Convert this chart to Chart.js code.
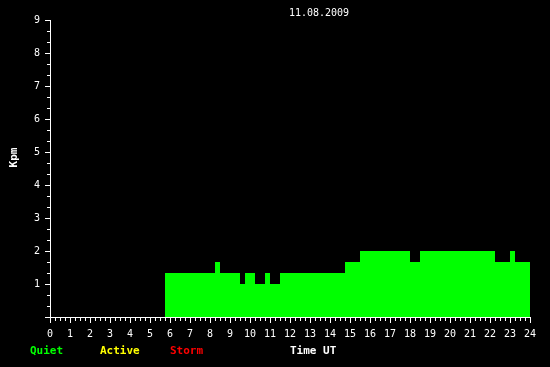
<!DOCTYPE html>
<html>
<head>
<meta charset="utf-8">
<script src="https://cdn.jsdelivr.net/npm/chart.js@4.4.0/dist/chart.umd.min.js"></script>
<style>
  html, body { margin: 0; padding: 0; background: #000; }
  #c { display: block; background: #000; }
</style>
</head>
<body>
<canvas id="c" width="550" height="367"></canvas>
<script>
// ---- data ----
const chartTitle = "11.08.2009";
// start hour (UT) of each constant Kpm segment
const segStartHours = [5.75, 8.25, 8.5, 9.5, 9.75, 10.25, 10.75, 11.0, 11.5, 14.75, 15.5, 18.0, 18.5, 22.25, 23.0, 23.25];
// Kpm value for each segment
const kpmValues = [1.333, 1.667, 1.333, 1.0, 1.333, 1.0, 1.333, 1.0, 1.333, 1.667, 2.0, 1.667, 2.0, 1.667, 2.0, 1.667];
const endHour = 24;
const xTickLabels = ["0","1","2","3","4","5","6","7","8","9","10","11","12","13","14","15","16","17","18","19","20","21","22","23","24"];
const yTickLabels = ["","1","2","3","4","5","6","7","8","9"];
const legendLabels = ["Quiet", "Active", "Storm"];
const legendColors = ["#00ff00", "#ffff00", "#ff0000"];
const xAxisTitle = "Time UT";
const yAxisTitle = "Kpm";

// build step points
const points = segStartHours.map((h, i) => ({ x: h, y: kpmValues[i] }));
points.push({ x: endHour, y: kpmValues[kpmValues.length - 1] });

const MONO = "'DejaVu Sans Mono', 'Liberation Mono', monospace";

const decorPlugin = {
  id: 'decor',
  afterDraw(chart) {
    const ctx = chart.ctx;
    const xs = chart.scales.x, ys = chart.scales.y;
    const left = chart.chartArea.left, bottom = chart.chartArea.bottom;
    ctx.save();
    ctx.strokeStyle = '#ffffff';
    ctx.lineWidth = 1;
    ctx.beginPath();
    // y ticks every 1/3
    for (let k = 0; k <= 27; k++) {
      const py = Math.round(ys.getPixelForValue(k / 3)) + 0.5;
      const len = (k % 3 === 0) ? 5 : 3;
      ctx.moveTo(left - len, py);
      ctx.lineTo(left, py);
    }
    // x ticks every 15 min
    for (let k = 0; k <= 96; k++) {
      const px = Math.round(xs.getPixelForValue(k / 4)) + 0.5;
      const len = (k % 4 === 0) ? 5 : 3;
      ctx.moveTo(px, bottom + 1);
      ctx.lineTo(px, bottom + 1 + len);
    }
    ctx.stroke();

    // title
    ctx.fillStyle = '#ffffff';
    ctx.font = "10px " + MONO;
    ctx.textAlign = 'center';
    ctx.textBaseline = 'alphabetic';
    ctx.fillText(chartTitle, 319, 16);

    // legend + x axis title
    ctx.font = "bold 11px " + MONO;
    ctx.textAlign = 'left';
    const legX = [30, 100, 170];
    legendLabels.forEach((t, i) => {
      ctx.fillStyle = legendColors[i];
      ctx.fillText(t, legX[i], 354);
    });
    ctx.fillStyle = '#ffffff';
    ctx.fillText(xAxisTitle, 290, 354);

    // y axis title
    ctx.save();
    ctx.translate(17, 157.5);
    ctx.rotate(-Math.PI / 2);
    ctx.textAlign = 'center';
    ctx.textBaseline = 'alphabetic';
    ctx.fillText(yAxisTitle, 0, 0);
    ctx.restore();
    ctx.restore();
  }
};

new Chart(document.getElementById('c'), {
  type: 'line',
  data: {
    datasets: [{
      data: points,
      stepped: 'before',
      fill: 'origin',
      backgroundColor: '#00ff00',
      borderColor: 'rgba(0,0,0,0)',
      borderWidth: 1,
      pointRadius: 0,
      tension: 0
    }]
  },
  options: {
    responsive: false,
    animation: false,
    devicePixelRatio: 1,
    layout: { padding: { top: 20, right: 20, left: 0, bottom: 0 } },
    plugins: {
      legend: { display: false },
      tooltip: { enabled: false },
      title: { display: false }
    },
    scales: {
      x: {
        type: 'linear',
        min: 0, max: 24,
        afterFit(scale) { scale.height = 50; },
        grid: { drawOnChartArea: false, drawTicks: false },
        border: { display: true, color: '#ffffff', width: 1 },
        ticks: {
          stepSize: 1,
          autoSkip: false,
          maxRotation: 0,
          padding: 11,
          color: '#ffffff',
          font: { family: MONO, size: 10 },
          callback: (v) => xTickLabels[v] !== undefined ? xTickLabels[v] : ''
        }
      },
      y: {
        type: 'linear',
        min: 0, max: 9,
        afterFit(scale) { scale.width = 50; },
        grid: { drawOnChartArea: false, drawTicks: false },
        border: { display: true, color: '#ffffff', width: 1 },
        ticks: {
          stepSize: 1,
          padding: 10,
          color: '#ffffff',
          font: { family: MONO, size: 10 },
          callback: (v) => yTickLabels[v] !== undefined ? yTickLabels[v] : ''
        }
      }
    }
  },
  plugins: [decorPlugin]
});
</script>
</body>
</html>
